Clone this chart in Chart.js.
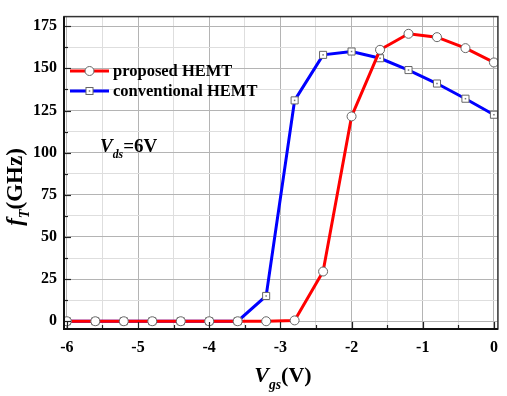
<!DOCTYPE html>
<html>
<head>
<meta charset="utf-8">
<script src="https://cdn.jsdelivr.net/npm/chart.js@4.4.1/dist/chart.umd.min.js"></script>
<style>
  html, body { margin: 0; padding: 0; background: #fff; }
  #wrap { width: 507px; height: 396px; position: relative; }
</style>
</head>
<body>
<div id="wrap"><canvas id="chart"></canvas></div>
<script>
/* ── Data ── */
const vgs          = [-6, -5.6, -5.2, -4.8, -4.4, -4.0, -3.6, -3.2, -2.8, -2.4, -2.0, -1.6, -1.2, -0.8, -0.4, 0];
const proposed     = [0, 0, 0, 0, 0, 0, 0, 0, 0.5, 29.5, 121.5, 161, 170.5, 168.5, 162, 153.5];
const conventional = [0, 0, 0, 0, 0, 0, 0, 15, 131, 158, 160, 156, 149, 141, 132, 122.5];
const xTicks       = [-6, -5.5, -5, -4.5, -4, -3.5, -3, -2.5, -2, -1.5, -1, -0.5, 0];
const yTicks       = [0, 12.5, 25, 37.5, 50, 62.5, 75, 87.5, 100, 112.5, 125, 137.5, 150, 162.5, 175];
const seriesNames  = ['proposed HEMT', 'conventional HEMT'];

const SERIF = '"Liberation Serif", "Times New Roman", serif';
const isMajor = (v, step) => Math.abs(v / step - Math.round(v / step)) < 1e-6;

const toXY = ys => vgs.map((x, i) => ({ x, y: ys[i] }));

/* ── Frame, inward ticks, titles, legend, annotation ── */
const decor = {
  id: 'decor',
  afterDatasetDraw(chart, args) {
    /* centre dot of the square markers, before the red series goes on top */
    if (args.meta.label !== seriesNames[1]) return;
    const c = chart.ctx;
    c.save();
    c.fillStyle = '#777';
    args.meta.data.forEach(p => c.fillRect(p.x - 0.75, p.y - 0.75, 1.5, 1.5));
    c.restore();
  },
  afterDatasetsDraw(chart) {
    const c = chart.ctx;
    const { left, right, top, bottom } = chart.chartArea;
    const xs = chart.scales.x, ys = chart.scales.y;

    c.save();
    /* inward tick marks */
    c.strokeStyle = '#222';
    c.lineWidth = 1.2;
    xTicks.forEach(v => {
      const px = Math.round(xs.getPixelForValue(v)) + 0.5;
      const len = isMajor(v, 1) ? 7 : 4;
      c.beginPath(); c.moveTo(px, bottom); c.lineTo(px, bottom - len); c.stroke();
    });
    yTicks.forEach(v => {
      const py = Math.round(ys.getPixelForValue(v)) + 0.5;
      const len = isMajor(v, 25) ? 7 : 4;
      c.beginPath(); c.moveTo(left, py); c.lineTo(left + len, py); c.stroke();
    });

    /* frame */
    c.strokeStyle = '#333';
    c.lineWidth = 1.5;
    c.strokeRect(left, top, right - left, bottom - top);
    c.strokeStyle = '#111';
    c.lineWidth = 2;
    c.beginPath();
    c.moveTo(left, top); c.lineTo(left, bottom); c.lineTo(right, bottom);
    c.stroke();

    /* legend */
    const legY = [71, 91];
    const legCol = ['#ff0000', '#0000ff'];
    const legPt = ['circle', 'rect'];
    legY.forEach((y, i) => {
      c.strokeStyle = legCol[i];
      c.lineWidth = 3;
      c.beginPath(); c.moveTo(70, y); c.lineTo(109, y); c.stroke();
      c.fillStyle = '#fff';
      c.strokeStyle = '#666';
      c.lineWidth = 1;
      if (legPt[i] === 'circle') {
        c.beginPath(); c.arc(89.5, y, 4.5, 0, Math.PI * 2); c.fill(); c.stroke();
      } else {
        c.fillRect(86, y - 3.5, 7, 7); c.strokeRect(86, y - 3.5, 7, 7);
        c.fillStyle = '#777';
        c.fillRect(88.75, y - 0.75, 1.5, 1.5);
      }
      c.fillStyle = '#000';
      c.font = 'bold 16.5px ' + SERIF;
      c.textAlign = 'left';
      c.textBaseline = 'middle';
      c.fillText(seriesNames[i], 113, y + 1);
    });

    /* subscript text helper: parts = [[text, italic, sub]] */
    function drawRich(parts, x, y, size) {
      c.textBaseline = 'alphabetic';
      c.textAlign = 'left';
      let cx = x;
      parts.forEach(([t, it, sub]) => {
        const fs = sub ? size * 0.62 : size;
        c.font = (it ? 'italic ' : '') + 'bold ' + fs + 'px ' + SERIF;
        c.fillText(t, cx, y + (sub ? size * 0.3 : 0));
        cx += c.measureText(t).width;
      });
      return cx - x;
    }
    function richWidth(parts, size) {
      let w = 0;
      parts.forEach(([t, it, sub]) => {
        const fs = sub ? size * 0.62 : size;
        c.font = (it ? 'italic ' : '') + 'bold ' + fs + 'px ' + SERIF;
        w += c.measureText(t).width;
      });
      return w;
    }

    c.fillStyle = '#000';
    /* V_ds = 6V annotation */
    drawRich([['V', true, false], ['ds', true, true], ['=6V', false, false]], 100, 152, 19);

    /* x title */
    const xt = [['V', true, false], ['gs', true, true], ['(V)', false, false]];
    const xw = richWidth(xt, 22);
    drawRich(xt, 283 - xw / 2, 382, 22);

    /* y title (rotated) */
    const yt = [['f', true, false], ['T', true, true], ['(GHz)', false, false]];
    const yw = richWidth(yt, 23);
    c.translate(22, 187);
    c.rotate(-Math.PI / 2);
    drawRich(yt, -yw / 2, 0, 23);
    c.restore();
  }
};

new Chart(document.getElementById('chart'), {
  type: 'line',
  data: {
    datasets: [
      {
        label: seriesNames[1],
        data: toXY(conventional),
        order: 1,
        borderColor: '#0000ff',
        borderWidth: 3,
        pointStyle: 'rect',
        pointRadius: 5,
        pointBackgroundColor: '#fff',
        pointBorderColor: '#666',
        pointBorderWidth: 1,
        tension: 0
      },
      {
        label: seriesNames[0],
        data: toXY(proposed),
        order: 0,
        borderColor: '#ff0000',
        borderWidth: 3,
        pointStyle: 'circle',
        pointRadius: 4.5,
        pointBackgroundColor: '#fff',
        pointBorderColor: '#666',
        pointBorderWidth: 1,
        tension: 0
      }
    ]
  },
  options: {
    responsive: true,
    maintainAspectRatio: false,
    animation: false,
    layout: { padding: { top: 5, right: 8, left: 0, bottom: 0 } },
    plugins: { legend: { display: false }, tooltip: { enabled: false } },
    scales: {
      x: {
        type: 'linear',
        min: -6.04,
        max: 0.056,
        afterBuildTicks: s => { s.ticks = xTicks.map(v => ({ value: v })); },
        afterFit: s => { s.height = 67; },
        grid: {
          color: ctx => isMajor(ctx.tick.value, 1) ? '#b4b4b4' : '#dedede',
          lineWidth: 1,
          drawTicks: false
        },
        border: { display: false },
        ticks: {
          autoSkip: false,
          maxRotation: 0,
          padding: 9,
          color: '#000',
          font: { family: SERIF, size: 16, weight: 'bold' },
          callback: v => isMajor(v, 1) ? String(Math.round(v)) : ''
        }
      },
      y: {
        type: 'linear',
        min: -4.6,
        max: 180.7,
        afterBuildTicks: s => { s.ticks = yTicks.map(v => ({ value: v })); },
        afterFit: s => { s.width = 64; },
        grid: {
          color: ctx => isMajor(ctx.tick.value, 25) ? '#b4b4b4' : '#dedede',
          lineWidth: 1,
          drawTicks: false
        },
        border: { display: false },
        ticks: {
          autoSkip: false,
          padding: 7,
          color: '#000',
          font: { family: SERIF, size: 16, weight: 'bold' },
          callback: v => isMajor(v, 25) ? String(v) : ''
        }
      }
    }
  },
  plugins: [decor]
});
</script>
</body>
</html>
